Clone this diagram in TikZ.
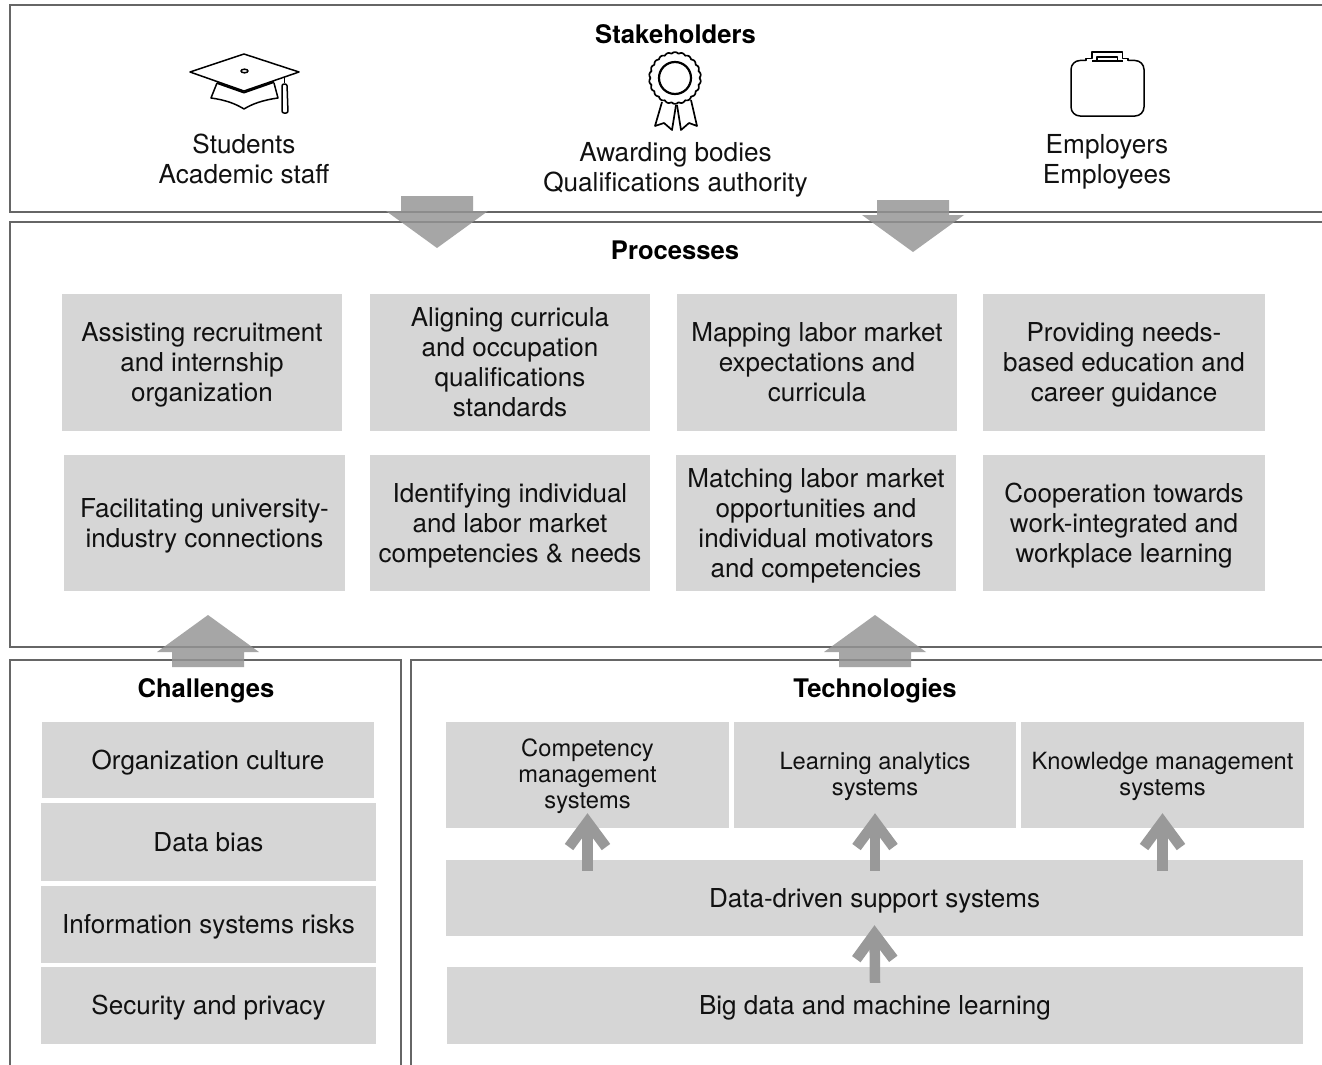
\documentclass[tikz,border=0pt]{standalone}
\usepackage{fontspec}
\setmainfont{TeX Gyre Heros}
\usetikzlibrary{arrows.meta,calc}
\definecolor{cellgray}{HTML}{D6D6D6}
\definecolor{panelline}{HTML}{666666}
\definecolor{ink}{HTML}{111111}
\newcommand\tldp{.205em}
\newcommand\tl[1]{\rule{0pt}{.92em}#1\rule[-\tldp]{0pt}{0pt}}
\tikzset{
  panel/.style={draw=panelline,line width=1.7pt},
  cell/.style={fill=cellgray,inner sep=0pt,align=center,text=ink,font=\fontsize{26.05}{30}\selectfont},
  techcell/.style={cell,font=\fontsize{23.7}{26}\selectfont\renewcommand\tldp{.29em}},
  heading/.style={inner sep=0pt,align=center,text=black,font=\fontsize{25.6}{30}\selectfont\bfseries},
  label/.style={inner sep=0pt,align=center,text=ink,font=\fontsize{26.15}{30}\selectfont},
  bigarrow/.style={fill=black!42,fill opacity=.83},
  smallarrow/.style={draw=black!40,line width=10.5pt,-{Straight Barb[length=25pt,width=37pt,line width=10.5pt]}},
  icon/.style={draw=black,line width=1.5pt,line join=round}
}
\newcommand\cellbox[7][cell]{%
  \pgfmathsetmacro\cw{#5-#3}\pgfmathsetmacro\ch{#6-#4}%
  \pgfmathsetmacro\cx{(#5+#3)/2}\pgfmathsetmacro\cy{(#6+#4)/2}%
  \node[#1,minimum width=\cw pt,minimum height=\ch pt] (#2) at (\cx,\cy) {\tl{#7}};}
\newcommand\blockarrow[3]{%
  \coordinate (#1) at (#2);
  \fill[bigarrow,shift={(#1)},yscale=#3] (0,0) -- (51,37) -- (36,37) -- (36,52) -- (-36,52) -- (-36,37) -- (-51,37) -- cycle;}
\begin{document}
\begin{tikzpicture}[x=1pt,y=-1pt]
\useasboundingbox (0,0) rectangle (1322,1065);
\fill[white] (0,0) rectangle (1322,1065);
% panels
\draw[panel] (1322,5) -- (10,5) -- (10,212) -- (1322,212);
\draw[panel] (1322,222) -- (10,222) -- (10,647) -- (1322,647);
\draw[panel] (10,1065) -- (10,660) -- (401,660) -- (401,1065);
\draw[panel] (1322,660) -- (411,660) -- (411,1065);
% headings and labels
\node[heading] (hstake) at (675.5,34) {\tl{Stakeholders}};
\node[heading] (hproc) at (675,250) {\tl{Processes}};
\node[heading] (hchal) at (206,689) {\tl{Challenges}};
\node[heading] (htech) at (875,689) {\tl{Technologies}};
\node[label] (lstud) at (244,159) {\tl{Students\\Academic staff}};
\node[label] (lawrd) at (675.5,167) {\tl{Awarding bodies\\Qualifications authority}};
\node[label] (lempl) at (1107,159) {\tl{Employers\\Employees}};
% cap icon
\draw[icon] (190,72) -- (244,54) -- (299,72) -- (244,91) -- cycle;
\draw[icon] (244.5,71) ellipse (3.5 and 1.8);
\draw[icon,line width=2pt] (217,83) -- (244,92.5) -- (274,82);
\draw[icon] (217,83) -- (211,98) .. controls (226,100) and (236,104) .. (244,109) .. controls (252,104) and (263,100) .. (278,98) -- (274,83);
\draw[icon] (284.5,77) -- (284.5,83);
\draw[icon,rounded corners=2pt] (282,84) -- (287,84) -- (288,113) -- (282,113) -- cycle;
% rosette icon
\draw[icon,line width=1.7pt] plot[domain=0:360,samples=289,smooth] ({675+(24.5+1.4*abs(sin(11*\x)))*cos(\x)},{78+(24.5+1.4*abs(sin(11*\x)))*sin(\x)}) -- cycle;
\draw[icon,line width=2.2pt] (675,78) circle (16);
\draw[icon,line width=1.7pt] (662,102) -- (655,126) -- (664,123) -- (672,130) -- (676,105);
\draw[icon,line width=1.7pt] (677,105) -- (681,130) -- (689,123) -- (697,126) -- (691,100);
% briefcase icon
\draw[icon,rounded corners=9pt] (1086,60.5) -- (1071,60.5) -- (1071,116) -- (1144,116) -- (1144,60.5) -- (1128,60.5);
\draw[icon] (1080,60.5) -- (1086,60.5) -- (1086,58.5) -- (1092,58.5) -- (1092,52) -- (1122.5,52) -- (1122.5,58.5) -- (1128,58.5) -- (1128,60.5) -- (1134,60.5);
\draw[icon] (1097,57) -- (1117.5,57) -- (1117.5,61) -- (1097,61) -- cycle;
\draw[icon] (1092,61) -- (1122.5,61);
% process cells
\cellbox{p1}{62}{294}{342}{431}{Assisting recruitment\\and internship\\organization}
\cellbox{p2}{370}{294}{650}{431}{Aligning curricula\\and occupation\\qualifications\\standards}
\cellbox{p3}{677}{294}{957}{431}{Mapping labor market\\expectations and\\curricula}
\cellbox{p4}{983}{294}{1265}{431}{Providing needs-\\based education and\\career guidance}
\cellbox{p5}{64}{455}{345}{591}{Facilitating university-\\industry connections}
\cellbox{p6}{370}{455}{650}{591}{Identifying individual\\and labor market\\competencies \& needs}
\cellbox{p7}{676}{455}{956}{591}{Matching labor market\\opportunities and\\individual motivators\\and competencies}
\cellbox{p8}{983}{455}{1265}{591}{Cooperation towards\\work-integrated and\\workplace learning}
% challenges
\cellbox{c1}{42}{722}{374}{798}{Organization culture}
\cellbox{c2}{41}{803}{376}{881}{Data bias}
\cellbox{c3}{41}{886}{376}{963}{Information systems risks}
\cellbox{c4}{41}{967}{376}{1044}{Security and privacy}
% technologies
\cellbox[techcell]{t1}{446}{722}{729}{828}{Competency\\management\\systems}
\cellbox[techcell]{t2}{734}{722}{1016}{828}{Learning analytics\\systems}
\cellbox[techcell]{t3}{1021}{722}{1304}{828}{Knowledge management\\systems}
\cellbox{t4}{446}{860}{1303}{936}{Data-driven support systems}
\cellbox{t5}{447}{967}{1303}{1044}{Big data and machine learning}
% small arrows
\draw[smallarrow] ($(t1.south |- t4.north)+(0,11)$) -- ($(t1.south)+(0,-15)$);
\draw[smallarrow] ($(t2.south |- t4.north)+(0,11)$) -- ($(t2.south)+(0,-15)$);
\draw[smallarrow] ($(t3.south |- t4.north)+(0,11)$) -- ($(t3.south)+(0,-15)$);
\draw[smallarrow] ($(t5.north)+(0,16)$) -- ($(t4.south)+(0,-11)$);
% block arrows
\blockarrow{a1}{437,248}{-1}
\blockarrow{a2}{913,252}{-1}
\blockarrow{a3}{208,615}{1}
\blockarrow{a4}{875,615}{1}
\end{tikzpicture}
\end{document}
